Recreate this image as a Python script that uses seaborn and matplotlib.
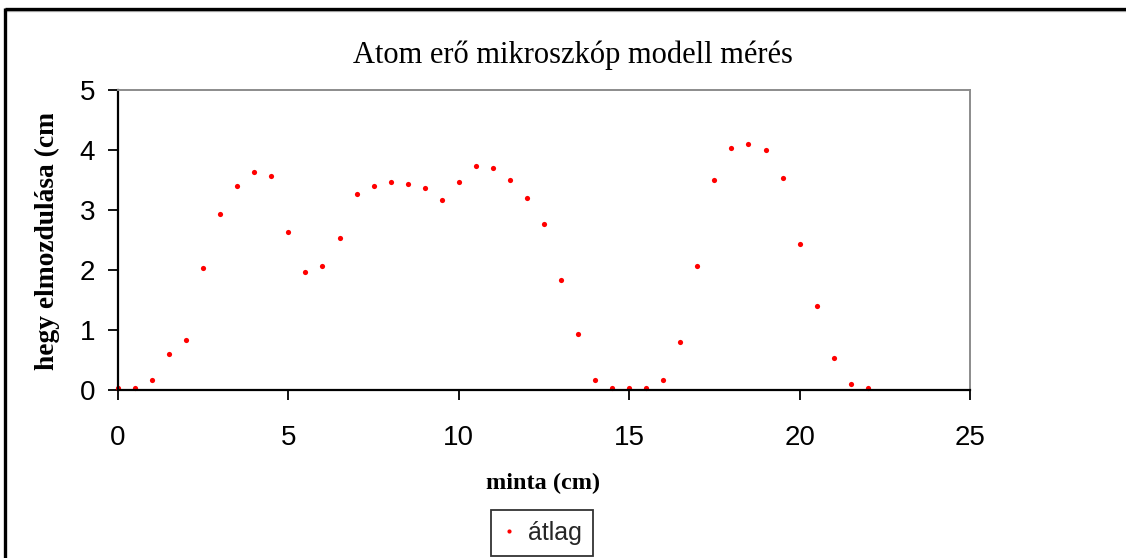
import matplotlib
matplotlib.use("Agg")
import matplotlib.pyplot as plt
from matplotlib.lines import Line2D
from matplotlib.transforms import Bbox
import seaborn as sns
import pandas as pd

# Measurement positions along the sample (cm) and mean tip displacement (cm)
minta = [0.0, 0.5, 1.0, 1.5, 2.0, 2.5, 3.0, 3.5, 4.0, 4.5,
         5.0, 5.5, 6.0, 6.5, 7.0, 7.5, 8.0, 8.5, 9.0, 9.5,
         10.0, 10.5, 11.0, 11.5, 12.0, 12.5, 13.0, 13.5, 14.0, 14.5,
         15.0, 15.5, 16.0, 16.5, 17.0, 17.5, 18.0, 18.5, 19.0, 19.5,
         20.0, 20.5, 21.0, 21.5, 22.0]
atlag = [0.03, 0.03, 0.17, 0.60, 0.83, 2.03, 2.93, 3.40, 3.63, 3.57,
         2.63, 1.97, 2.07, 2.53, 3.27, 3.40, 3.47, 3.43, 3.37, 3.17,
         3.47, 3.73, 3.70, 3.50, 3.20, 2.77, 1.83, 0.93, 0.17, 0.03,
         0.03, 0.03, 0.17, 0.80, 2.07, 3.50, 4.03, 4.10, 4.00, 3.53,
         2.43, 1.40, 0.53, 0.10, 0.03]

x_ticks = [0, 5, 10, 15, 20, 25]
y_ticks = [0, 1, 2, 3, 4, 5]

title = "Atom erő mikroszkóp modell mérés"
xlabel = "minta (cm)"
ylabel = "hegy elmozdulása (cm)"
series_name = "átlag"

df = pd.DataFrame({"minta": minta, "atlag": atlag})

sns.set_style("white")
plt.rcParams["font.family"] = ["Liberation Sans", "DejaVu Sans"]

W, H, DPI = 1126, 558, 100
fig = plt.figure(figsize=(W / DPI, H / DPI), dpi=DPI)
fig.patch.set_facecolor("white")

# plot area in pixel coordinates
left, right, top, bottom = 118, 970, 90, 390
ax = fig.add_axes([left / W, 1 - bottom / H, (right - left) / W, (bottom - top) / H])

sns.scatterplot(data=df, x="minta", y="atlag", ax=ax, color="#ff0000",
                s=14, linewidth=0, marker="o", label=series_name, legend=False)

ax.set_xlim(0, 25)
ax.set_ylim(0, 5)
ax.set_xticks(x_ticks)
ax.set_yticks(y_ticks)
ax.set_xticklabels([str(t) for t in x_ticks])
ax.set_yticklabels([str(t) for t in y_ticks])
ax.set_xlabel("")
ax.set_ylabel("")

for side in ["left", "bottom"]:
    ax.spines[side].set_color("black")
    ax.spines[side].set_linewidth(1.6)
for side in ["top", "right"]:
    ax.spines[side].set_color("#8c8c8c")
    ax.spines[side].set_linewidth(1.4)
    ax.spines[side].set_visible(True)

ax.tick_params(axis="both", which="major", direction="out", length=7.5,
               width=1.3, color="black", labelsize=20, labelcolor="black")
ax.tick_params(axis="y", pad=9)
ax.tick_params(axis="x", pad=18)
ax.tick_params(left=True, bottom=True)
ax.grid(False)
for c in ax.collections:
    c.set_clip_on(False)

serif = ["Liberation Serif", "DejaVu Serif"]
fig.text(573 / W, 1 - 55 / H, title, ha="center", va="center",
         fontsize=22, family=serif, color="black")
fig.text(543 / W, 1 - 483 / H, xlabel, ha="center", va="center",
         fontsize=17.5, family=serif, fontweight="bold", color="black")
# the axis title runs past the top of its text area and is cut there
yl = fig.text(47 / W, 1 - 370 / H, ylabel, ha="center", va="bottom",
              rotation=90, fontsize=19.8, family=serif, fontweight="bold",
              color="black")
yl.set_clip_box(Bbox([[0, 0], [W, H - 114]]))
yl.set_clip_on(True)

handle = Line2D([], [], linestyle="none", marker="o", markersize=3,
                markerfacecolor="#ff0000", markeredgewidth=0)
leg = fig.legend([handle], [series_name], loc="center",
                 bbox_to_anchor=(542 / W, 1 - 533 / H),
                 bbox_transform=fig.transFigure, frameon=True, fancybox=False,
                 fontsize=18, handlelength=0.6, handletextpad=0.45,
                 borderpad=0.45, borderaxespad=0)
leg.get_frame().set_edgecolor("black")
leg.get_frame().set_linewidth(1.3)

# outer chart frame (top and left edges)
fig.add_artist(Line2D([4 / W, 1], [1 - 11 / H, 1 - 11 / H], color="#bdbdbd",
                      linewidth=1.0, transform=fig.transFigure))
fig.add_artist(Line2D([5 / W, 1], [1 - 9 / H, 1 - 9 / H], color="black",
                      linewidth=2.4, transform=fig.transFigure,
                      solid_capstyle="butt"))
fig.add_artist(Line2D([5 / W, 5 / W], [1 - 8 / H, 0], color="black",
                      linewidth=2.4, transform=fig.transFigure,
                      solid_capstyle="butt"))

fig.savefig("out.png", dpi=DPI, facecolor="white")
